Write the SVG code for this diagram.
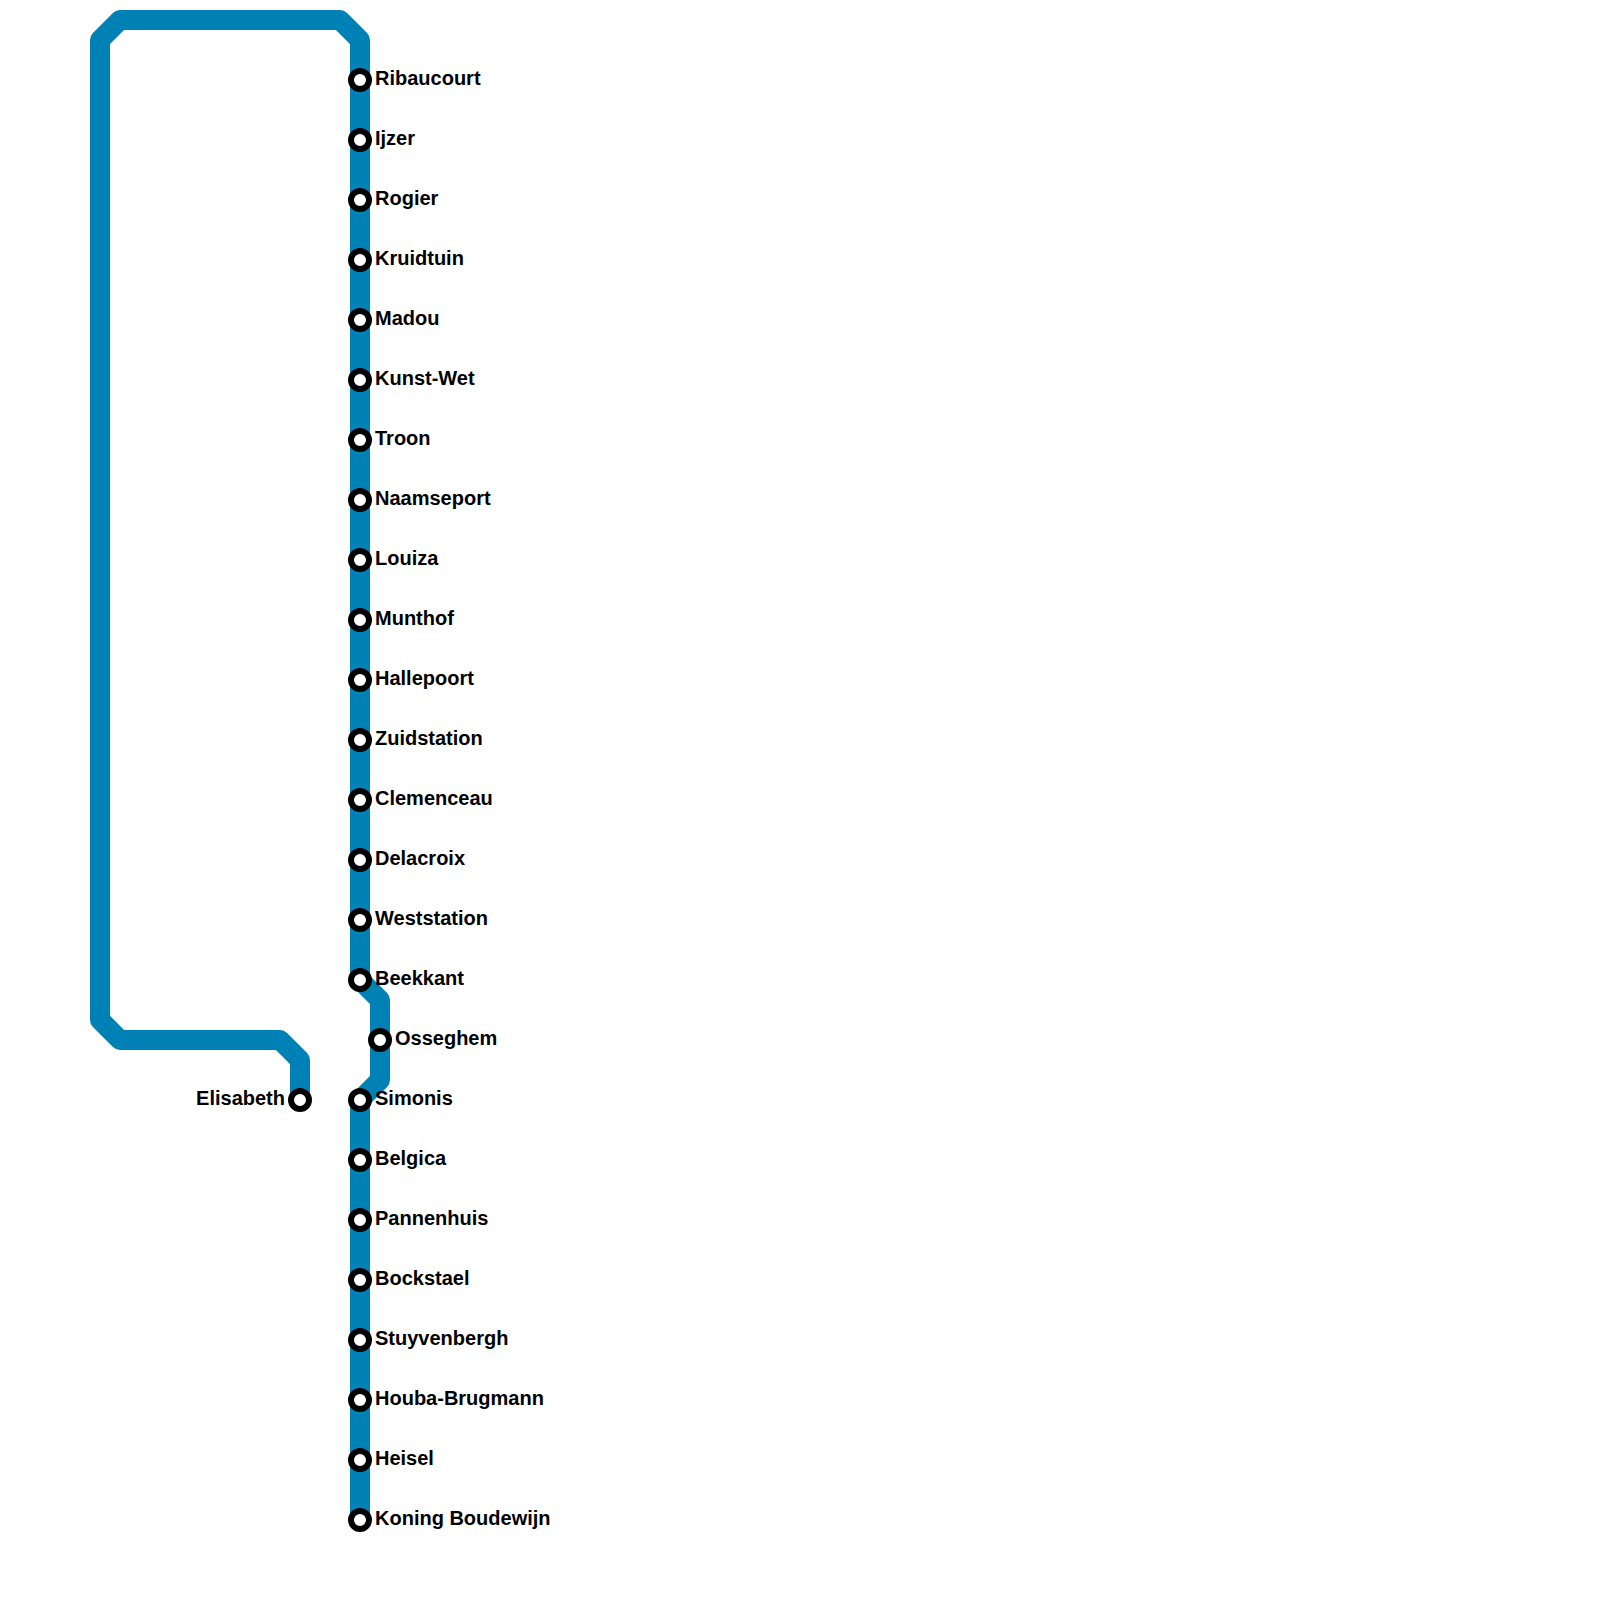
<svg xmlns="http://www.w3.org/2000/svg" width="1600" height="1600" viewBox="0 0 1600 1600">
<style>
.line{fill:none;stroke:#0081b5;stroke-width:20;stroke-linejoin:round;stroke-linecap:butt}
.st{fill:#fff;stroke:#000;stroke-width:6}
text{font-family:"Liberation Sans",Arial,sans-serif;font-weight:bold;font-size:20px;fill:#000}
.e{text-anchor:end}
</style>
<rect width="1600" height="1600" fill="#fff"/>
<g id="connectors">
<path class="line" d="M300 1100V1060L280 1040H120L100 1020V40L120 20H340L360 40V980L380 1000V1080L360 1100V1520"/>
</g>
<g id="n-ribaucourt"><circle class="st" cx="360" cy="80" r="9"/><text x="375" y="85">Ribaucourt</text></g>
<g id="n-ijzer"><circle class="st" cx="360" cy="140" r="9"/><text x="375" y="145">Ijzer</text></g>
<g id="n-rogier"><circle class="st" cx="360" cy="200" r="9"/><text x="375" y="205">Rogier</text></g>
<g id="n-kruidtuin"><circle class="st" cx="360" cy="260" r="9"/><text x="375" y="265">Kruidtuin</text></g>
<g id="n-madou"><circle class="st" cx="360" cy="320" r="9"/><text x="375" y="325">Madou</text></g>
<g id="n-kunst-wet"><circle class="st" cx="360" cy="380" r="9"/><text x="375" y="385">Kunst-Wet</text></g>
<g id="n-troon"><circle class="st" cx="360" cy="440" r="9"/><text x="375" y="445">Troon</text></g>
<g id="n-naamseport"><circle class="st" cx="360" cy="500" r="9"/><text x="375" y="505">Naamseport</text></g>
<g id="n-louiza"><circle class="st" cx="360" cy="560" r="9"/><text x="375" y="565">Louiza</text></g>
<g id="n-munthof"><circle class="st" cx="360" cy="620" r="9"/><text x="375" y="625">Munthof</text></g>
<g id="n-hallepoort"><circle class="st" cx="360" cy="680" r="9"/><text x="375" y="685">Hallepoort</text></g>
<g id="n-zuidstation"><circle class="st" cx="360" cy="740" r="9"/><text x="375" y="745">Zuidstation</text></g>
<g id="n-clemenceau"><circle class="st" cx="360" cy="800" r="9"/><text x="375" y="805">Clemenceau</text></g>
<g id="n-delacroix"><circle class="st" cx="360" cy="860" r="9"/><text x="375" y="865">Delacroix</text></g>
<g id="n-weststation"><circle class="st" cx="360" cy="920" r="9"/><text x="375" y="925">Weststation</text></g>
<g id="n-beekkant"><circle class="st" cx="360" cy="980" r="9"/><text x="375" y="985">Beekkant</text></g>
<g id="n-osseghem"><circle class="st" cx="380" cy="1040" r="9"/><text x="395" y="1045">Osseghem</text></g>
<g id="n-simonis"><circle class="st" cx="360" cy="1100" r="9"/><text x="375" y="1105">Simonis</text></g>
<g id="n-belgica"><circle class="st" cx="360" cy="1160" r="9"/><text x="375" y="1165">Belgica</text></g>
<g id="n-pannenhuis"><circle class="st" cx="360" cy="1220" r="9"/><text x="375" y="1225">Pannenhuis</text></g>
<g id="n-bockstael"><circle class="st" cx="360" cy="1280" r="9"/><text x="375" y="1285">Bockstael</text></g>
<g id="n-stuyvenbergh"><circle class="st" cx="360" cy="1340" r="9"/><text x="375" y="1345">Stuyvenbergh</text></g>
<g id="n-houba-brugmann"><circle class="st" cx="360" cy="1400" r="9"/><text x="375" y="1405">Houba-Brugmann</text></g>
<g id="n-heisel"><circle class="st" cx="360" cy="1460" r="9"/><text x="375" y="1465">Heisel</text></g>
<g id="n-koning-boudewijn"><circle class="st" cx="360" cy="1520" r="9"/><text x="375" y="1525">Koning Boudewijn</text></g>
<g id="n-elisabeth"><circle class="st" cx="300" cy="1100" r="9"/><text class="e" x="285" y="1105">Elisabeth</text></g>
</svg>
